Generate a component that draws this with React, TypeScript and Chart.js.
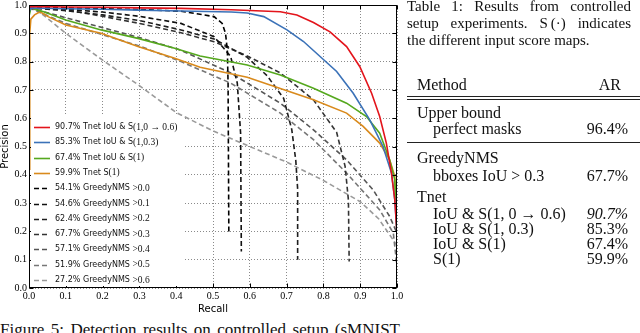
import React, { useEffect, useRef } from "react";
import { Chart, registerables } from "chart.js";
Chart.register(...registerables);

// ---------- data ----------
const tickLabels = ["0.0", "0.1", "0.2", "0.3", "0.4", "0.5", "0.6", "0.7", "0.8", "0.9", "1.0"];

const legendAR = ["90.7%", "85.3%", "67.4%", "59.9%", "54.1%", "54.6%", "62.4%", "67.7%", "57.1%", "51.9%", "27.2%"];
const legendName = ["Tnet IoU & S", "Tnet IoU & S", "Tnet IoU & S", "Tnet S", "GreedyNMS ", "GreedyNMS ", "GreedyNMS ", "GreedyNMS ", "GreedyNMS ", "GreedyNMS ", "GreedyNMS "];
const legendMath = ["(1,0 \u2192 0.6)", "(1,0.3)", "(1)", "(1)", ">0.0", ">0.1", ">0.2", ">0.3", ">0.4", ">0.5", ">0.6"];
const seriesColors = ["#e3141b", "#3b72b8", "#55a81e", "#d98a1c", "#000000", "#111111", "#1e1e1e", "#333333", "#555555", "#777777", "#9a9a9a"];
const seriesDashed = [false, false, false, false, true, true, true, true, true, true, true];

const redRecall = [0, 0.005, 0.1, 0.2, 0.3, 0.413, 0.55, 0.683, 0.728, 0.773, 0.818, 0.863, 0.899, 0.931, 0.953, 0.971, 0.985, 0.994, 1.0];
const redPrecision = [0.99, 0.995, 0.993, 0.992, 0.99, 0.988, 0.983, 0.976, 0.965, 0.938, 0.905, 0.853, 0.782, 0.688, 0.606, 0.512, 0.406, 0.312, 0.194];

const blueRecall = [0, 0.005, 0.1, 0.2, 0.3, 0.413, 0.55, 0.593, 0.638, 0.701, 0.746, 0.791, 0.836, 0.881, 0.926, 0.962, 0.985, 0.994, 1.0];
const bluePrecision = [0.975, 0.99, 0.987, 0.985, 0.982, 0.979, 0.975, 0.972, 0.959, 0.912, 0.871, 0.818, 0.765, 0.688, 0.594, 0.5, 0.406, 0.312, 0.194];

const greenRecall = [0, 0.007, 0.015, 0.04, 0.1, 0.196, 0.296, 0.396, 0.465, 0.593, 0.683, 0.773, 0.863, 0.917, 0.953, 0.98, 0.994, 1.0];
const greenPrecision = [0.96, 1.0, 0.985, 0.976, 0.947, 0.912, 0.882, 0.847, 0.82, 0.788, 0.753, 0.706, 0.653, 0.606, 0.547, 0.453, 0.382, 0.194];

const orangeRecall = [0, 0.002, 0.005, 0.015, 0.03, 0.052, 0.1, 0.196, 0.296, 0.396, 0.465, 0.593, 0.683, 0.773, 0.863, 0.908, 0.953, 0.98, 0.994, 1.0];
const orangePrecision = [0.42, 0.9, 0.95, 0.965, 0.976, 0.959, 0.929, 0.9, 0.853, 0.812, 0.78, 0.745, 0.705, 0.665, 0.618, 0.571, 0.512, 0.453, 0.394, 0.194];

const nms00Recall = [0, 0.1, 0.2, 0.3, 0.413, 0.503, 0.525, 0.534, 0.539, 0.541, 0.543];
const nms00Precision = [0.995, 0.99, 0.987, 0.984, 0.978, 0.959, 0.935, 0.9, 0.84, 0.72, 0.2];

const nms01Recall = [0, 0.1, 0.2, 0.3, 0.413, 0.503, 0.548, 0.566, 0.575, 0.577];
const nms01Precision = [0.99, 0.985, 0.975, 0.96, 0.935, 0.888, 0.818, 0.724, 0.547, 0.129];

const nms02Recall = [0, 0.1, 0.2, 0.3, 0.413, 0.503, 0.593, 0.647, 0.692, 0.714, 0.725, 0.73, 0.73];
const nms02Precision = [0.99, 0.98, 0.965, 0.945, 0.912, 0.88, 0.815, 0.75, 0.67, 0.56, 0.45, 0.35, 0.1];

const nms03Recall = [0, 0.1, 0.2, 0.3, 0.413, 0.503, 0.593, 0.683, 0.773, 0.836, 0.859, 0.868, 0.87];
const nms03Precision = [0.99, 0.983, 0.96, 0.935, 0.902, 0.87, 0.82, 0.76, 0.665, 0.55, 0.43, 0.31, 0.094];

const nms04Recall = [0, 0.1, 0.2, 0.3, 0.413, 0.548, 0.683, 0.773, 0.863, 0.935, 0.98, 1.0, 1.0];
const nms04Precision = [0.99, 0.955, 0.92, 0.885, 0.84, 0.76, 0.653, 0.559, 0.453, 0.347, 0.253, 0.194, 0.05];

const nms05Recall = [0, 0.1, 0.2, 0.3, 0.413, 0.548, 0.683, 0.773, 0.863, 0.953, 0.99, 1.0, 1.0];
const nms05Precision = [0.99, 0.935, 0.895, 0.855, 0.8, 0.724, 0.618, 0.524, 0.406, 0.276, 0.194, 0.076, 0.02];

const nms06Recall = [0, 0.015, 0.1, 0.2, 0.3, 0.4, 0.5, 0.6, 0.7, 0.8, 0.9, 0.95, 1.0];
const nms06Precision = [1.0, 0.99, 0.9, 0.805, 0.715, 0.62, 0.555, 0.5, 0.445, 0.38, 0.305, 0.245, 0.15];

const seriesRecall = [redRecall, blueRecall, greenRecall, orangeRecall, nms00Recall, nms01Recall, nms02Recall, nms03Recall, nms04Recall, nms05Recall, nms06Recall];
const seriesPrecision = [redPrecision, bluePrecision, greenPrecision, orangePrecision, nms00Precision, nms01Precision, nms02Precision, nms03Precision, nms04Precision, nms05Precision, nms06Precision];

const captionLines = ["Table 1:  Results from controlled", "setup experiments.  S\u2009(\u00b7) indicates", "the different input score maps."];

// ---------- plugins ----------
const framePlugin = {
  id: "frame",
  afterDraw(chart: any) {
    const { ctx, chartArea, scales } = chart;
    const l = Math.round(chartArea.left) + 0.5;
    const r = Math.round(chartArea.right) - 0.5;
    const t = Math.round(chartArea.top) + 0.5;
    const b = Math.round(chartArea.bottom) - 0.5;
    ctx.save();
    ctx.strokeStyle = "#000";
    ctx.lineWidth = 1;
    ctx.setLineDash([]);
    ctx.beginPath();
    scales.x.ticks.forEach((tk: any) => {
      const px = Math.round(scales.x.getPixelForValue(tk.value)) + 0.5;
      ctx.moveTo(px, b);
      ctx.lineTo(px, b - 4);
      ctx.moveTo(px, t);
      ctx.lineTo(px, t + 4);
    });
    scales.y.ticks.forEach((tk: any) => {
      const py = Math.round(scales.y.getPixelForValue(tk.value)) + 0.5;
      ctx.moveTo(l, py);
      ctx.lineTo(l + 4, py);
      ctx.moveTo(r, py);
      ctx.lineTo(r - 4, py);
    });
    ctx.stroke();
    ctx.strokeRect(l, t, r - l, b - t);

    // legend
    const rowH = 15.3;
    const n = legendAR.length;
    const firstY = chartArea.bottom - 8 - (n - 1) * rowH;
    const boxL = chartArea.left + 2;
    const boxT = firstY - 11;
    ctx.fillStyle = "#fff";
    ctx.fillRect(boxL, boxT, 152, chartArea.bottom - 2 - boxT);
    for (let i = 0; i < n; i++) {
      const y = firstY + i * rowH;
      ctx.strokeStyle = seriesColors[i];
      ctx.lineWidth = 1.6;
      ctx.setLineDash(seriesDashed[i] ? [5, 3] : []);
      ctx.beginPath();
      ctx.moveTo(boxL + 3, Math.round(y) + 0.5);
      ctx.lineTo(boxL + 19, Math.round(y) + 0.5);
      ctx.stroke();
      ctx.setLineDash([]);
      ctx.fillStyle = "#111";
      ctx.textBaseline = "middle";
      ctx.textAlign = "left";
      ctx.font = '8px "DejaVu Sans"';
      const tx = boxL + 24;
      const main = legendAR[i] + " " + legendName[i];
      ctx.fillText(main, tx, y);
      const w = ctx.measureText(main).width;
      ctx.font = '9.5px "Liberation Serif"';
      ctx.fillText(legendMath[i], tx + w, y);
    }
    ctx.restore();
  },
};

function Txt(props: any) {
  const { x, right, base, size = 16, italic, width, children } = props;
  const style: any = {
    position: "absolute",
    top: base - 0.8375 * size,
    fontSize: size,
    lineHeight: `${size}px`,
    fontFamily: '"Liberation Serif", serif',
    whiteSpace: "nowrap",
    color: "#111",
    fontStyle: italic ? "italic" : "normal",
  };
  if (right !== undefined) style.right = 640 - right;
  else style.left = x;
  if (width) {
    style.width = width;
    style.textAlign = "justify";
    style.textAlignLast = "justify";
    style.whiteSpace = "normal";
  }
  return <div style={style}>{children}</div>;
}

function Rule({ y }: { y: number }) {
  return <div style={{ position: "absolute", left: 407, width: 233, top: y, height: 1, background: "#222" }} />;
}

export default function App() {
  const ref = useRef<HTMLCanvasElement>(null);
  useEffect(() => {
    const datasets = seriesRecall.map((rec, i) => ({
      label: legendAR[i] + " " + legendName[i] + legendMath[i],
      data: rec.map((r, j) => ({ x: r, y: seriesPrecision[i][j] })),
      borderColor: seriesColors[i],
      backgroundColor: seriesColors[i],
      borderWidth: 1.6,
      borderDash: seriesDashed[i] ? [5, 3] : [],
      pointRadius: 0,
      tension: 0,
      fill: false,
    }));
    const tickFont = { family: '"Liberation Serif"', size: 10 };
    const chart = new Chart(ref.current as HTMLCanvasElement, {
      type: "line",
      data: { datasets },
      options: {
        animation: false,
        responsive: false,
        maintainAspectRatio: false,
        parsing: false as any,
        layout: { padding: { left: 0, top: 8, right: 13, bottom: 0 } },
        plugins: { legend: { display: false }, tooltip: { enabled: false } },
        scales: {
          x: {
            type: "linear",
            min: 0,
            max: 1,
            afterFit: (s: any) => { s.height = 26; },
            ticks: { stepSize: 0.1, padding: 2, color: "#000", font: tickFont, maxRotation: 0, callback: (_v: any, i: number) => tickLabels[i] },
            grid: { color: "#8a8a8a", lineWidth: 1, drawTicks: false, borderDash: [1, 2] } as any,
            border: { display: false, dash: [1, 2] },
            title: { display: true, text: "Recall", color: "#000", font: { family: '"DejaVu Sans"', size: 10, lineHeight: 1 }, padding: 0 },
          },
          y: {
            type: "linear",
            min: 0,
            max: 1,
            afterFit: (s: any) => { s.width = 29; },
            ticks: { stepSize: 0.1, padding: 2, color: "#000", font: tickFont, callback: (_v: any, i: number) => tickLabels[i] },
            grid: { color: "#8a8a8a", lineWidth: 1, drawTicks: false, borderDash: [1, 2] } as any,
            border: { display: false, dash: [1, 2] },
            title: { display: true, text: "Precision", color: "#000", font: { family: '"DejaVu Sans"', size: 10, lineHeight: 1 }, padding: 0 },
          },
        },
      },
      plugins: [framePlugin],
    });
    return () => chart.destroy();
  }, []);

  return (
    <div style={{ position: "fixed", left: 0, top: 0, width: 640, height: 333, overflow: "hidden", background: "#fff" }}>
      <canvas ref={ref} width={410} height={317} style={{ position: "absolute", left: 0, top: -3, width: 410, height: 317 }} />
      <Txt x={407} base={12} size={15} width={224}>{captionLines[0]}</Txt>
      <Txt x={407} base={29} size={15} width={224}>{captionLines[1]}</Txt>
      <Txt x={407} base={46} size={15}>{captionLines[2]}</Txt>

      <Txt x={417} base={90}>Method</Txt>
      <Txt right={621} base={90}>AR</Txt>
      <Rule y={96} />
      <Rule y={99} />
      <Txt x={417} base={118}>Upper bound</Txt>
      <Txt x={433} base={134}>perfect masks</Txt>
      <Txt right={628} base={134}>96.4%</Txt>
      <Rule y={142} />
      <Txt x={417} base={163}>GreedyNMS</Txt>
      <Txt x={433} base={181}>bboxes IoU &gt; 0.3</Txt>
      <Txt right={628} base={181}>67.7%</Txt>
      <Txt x={417} base={202}>Tnet</Txt>
      <Txt x={433} base={219}>IoU &amp; S(1, 0 → 0.6)</Txt>
      <Txt right={628} base={219} italic>90.7%</Txt>
      <Txt x={433} base={234}>IoU &amp; S(1, 0.3)</Txt>
      <Txt right={628} base={234}>85.3%</Txt>
      <Txt x={433} base={249}>IoU &amp; S(1)</Txt>
      <Txt right={628} base={249}>67.4%</Txt>
      <Txt x={433} base={264}>S(1)</Txt>
      <Txt right={628} base={264}>59.9%</Txt>

      <Txt x={0} base={335} size={17} width={400}>Figure 5:  Detection results on controlled setup (sMNIST test</Txt>
    </div>
  );
}
